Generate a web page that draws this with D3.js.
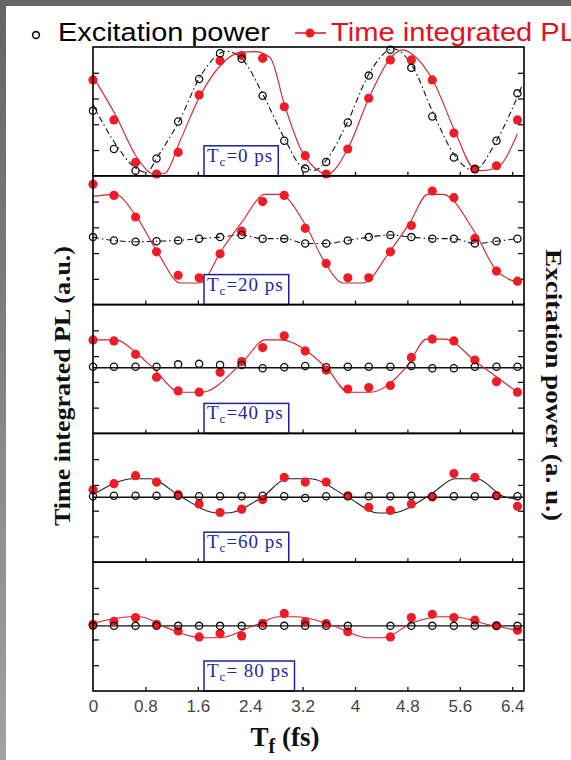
<!DOCTYPE html>
<html>
<head>
<meta charset="utf-8">
<script src="https://cdn.jsdelivr.net/npm/d3@7"></script>
<style>
  html, body { margin: 0; padding: 0; background: #fff; }
  svg { display: block; }
</style>
</head>
<body>
<div id="chart"></div>
<script>
// delay Tf (fs) of every measured point, same in all panels
const tf = [0, 0.32, 0.65, 0.97, 1.30, 1.62, 1.94, 2.27, 2.59, 2.92, 3.24,
  3.56, 3.89, 4.21, 4.54, 4.86, 5.18, 5.51, 5.83, 6.16, 6.48];
const xTicks = [0, 0.8, 1.6, 2.4, 3.2, 4, 4.8, 5.6, 6.4];
const tcLabels = ["0", "20", "40", "60", " 80"];

// excitation power (open circles), one list per Tc
const exc0 = [2.53, 1.04, 0.2, 0.67, 2.11, 3.76, 4.76, 4.54, 3.11, 1.36, 0.28,
  0.54, 2.07, 3.89, 4.89, 4.19, 2.3, 0.71, 0.26, 1.36, 3.2];
const exc20 = [2.62, 2.49, 2.44, 2.46, 2.49, 2.56, 2.62, 2.7, 2.56, 2.56, 2.37,
  2.37, 2.49, 2.62, 2.7, 2.62, 2.56, 2.56, 2.37, 2.46, 2.56];
const exc40 = [2.59, 2.59, 2.59, 2.59, 2.68, 2.7, 2.66, 2.66, 2.53, 2.57, 2.62,
  2.57, 2.59, 2.59, 2.59, 2.62, 2.53, 2.53, 2.59, 2.59, 2.59];
const exc60 = [2.56, 2.58, 2.58, 2.58, 2.58, 2.56, 2.56, 2.56, 2.58, 2.56, 2.49,
  2.56, 2.56, 2.56, 2.56, 2.58, 2.56, 2.56, 2.56, 2.58, 2.56];
const exc80 = [2.53, 2.53, 2.53, 2.53, 2.53, 2.53, 2.53, 2.53, 2.53, 2.53, 2.53,
  2.53, 2.53, null, 2.53, 2.53, 2.53, 2.53, 2.53, 2.53, 2.53];

// time integrated PL (red dots)
const pl0 = [3.72, 2.17, 0.52, 0.07, 0.91, 3.14, 4.47, 4.67, 4.56, 2.68, 0.78,
  0.07, 1.04, 3.01, 4.5, 4.5, 3.72, 1.66, 0.26, 0.39, 2.17];
const pl20 = [4.67, 4.24, 3.4, 2.05, 1.14, 1.04, 1.97, 2.85, 4.0, 4.24, 2.96,
  1.6, 1.04, 1.04, 2.05, 3.07, 4.41, 4.15, 2.57, 1.3, 0.91];
const pl40 = [3.63, 3.59, 3.07, 2.18, 1.65, 1.6, 2.37, 2.79, 3.33, 3.79, 3.2,
  2.46, 1.72, 1.78, 1.86, 2.95, 3.66, 3.59, 2.85, 2.01, 1.6];
const pl60 = [2.81, 3.05, 3.36, 3.11, 2.62, 2.26, 1.93, 2.06, 2.43, 3.29, 3.11,
  3.11, 2.58, 2.13, 2.01, 2.26, 2.53, 3.44, 3.29, 2.58, 2.17];
const pl80 = [2.59, 2.7, 2.85, 2.59, 2.33, 2.1, 2.23, 2.14, 2.63, 3.01, 2.68,
  2.62, 2.3, null, 2.1, 2.85, 2.98, 2.85, 2.75, 2.53, 2.36];

// fitted curves as [Tf, value]
const excFit0 = [[0, 2.76], [0.34, 1.25], [0.64, 0.32], [0.82, 0.13], [0.98, 0.72],
  [1.33, 2.2], [1.63, 3.82], [2.04, 4.84], [2.29, 4.5], [2.59, 3.18], [2.93, 1.42],
  [3.19, 0.35], [3.39, 0.22], [3.56, 0.6], [3.89, 2.11], [4.21, 3.94], [4.59, 4.93],
  [4.87, 4.28], [5.2, 2.4], [5.52, 0.8], [5.81, 0.2], [6.16, 1.36], [6.55, 3.5]];
const excFit40 = [[0, 2.55], [6.58, 2.55]];
const excFit60 = [[0, 2.52], [6.58, 2.52]];
const excFit80 = [[0, 2.53], [6.58, 2.53]];

const plFit0 = [[0, 3.85], [0.35, 2.33], [0.67, 0.71], [0.95, 0.05], [1.1, 0.1],
  [1.33, 1.36], [1.65, 3.18], [1.97, 4.35], [2.24, 4.79], [2.47, 4.82], [2.7, 4.6],
  [2.93, 2.7], [3.16, 1.1], [3.47, 0.15], [3.57, 0.05], [3.89, 1.05], [4.21, 3.0],
  [4.55, 4.6], [4.73, 4.89], [4.87, 4.73], [5.19, 3.7], [5.53, 1.7], [5.82, 0.26],
  [5.93, 0.2], [6.16, 0.3], [6.48, 1.63]];
const plFit20 = [[0, 4.2], [0.34, 4.28], [0.64, 3.5], [1.02, 1.88], [1.33, 0.84],
  [1.63, 0.84], [1.97, 2.14], [2.27, 3.19], [2.63, 4.28], [2.85, 4.28], [3.24, 3.11],
  [3.54, 1.63], [3.82, 0.84], [4.12, 0.84], [4.53, 2.06], [4.84, 3.19], [5.11, 4.28],
  [5.34, 4.28], [5.83, 2.8], [6.15, 1.36], [6.52, 0.84]];
const plFit40 = [[0, 3.63], [0.35, 3.63], [0.67, 3.1], [0.92, 2.53], [1.33, 1.6],
  [1.66, 1.6], [2.28, 2.75], [2.63, 3.63], [2.85, 3.63], [3.57, 2.53], [3.9, 1.6],
  [4.23, 1.6], [4.81, 2.66], [5.09, 3.66], [5.37, 3.66], [5.86, 2.75], [6.48, 1.6]];
const plFit60 = [[0, 2.62], [0.62, 3.24], [0.87, 3.24], [1.33, 2.56], [1.89, 1.91],
  [2.04, 1.91], [2.6, 2.56], [2.96, 3.24], [3.31, 3.24], [3.87, 2.56], [4.36, 1.91],
  [4.56, 1.91], [5.15, 2.62], [5.53, 3.24], [5.86, 3.24], [6.26, 2.56], [6.52, 2.43]];
const plFit80 = [[0, 2.62], [0.56, 2.88], [0.72, 2.88], [1.12, 2.46], [1.63, 2.07],
  [1.94, 2.07], [2.45, 2.53], [2.85, 2.88], [3.11, 2.88], [3.67, 2.53], [4.18, 2.07],
  [4.43, 2.07], [4.89, 2.66], [5.3, 2.88], [5.5, 2.88], [6.06, 2.56], [6.52, 2.33]];

const panels = [
  { tc: tcLabels[0], exc: exc0, pl: pl0, excFit: excFit0, plFit: plFit0 },
  { tc: tcLabels[1], exc: exc20, pl: pl20, excFit: null, plFit: plFit20 },
  { tc: tcLabels[2], exc: exc40, pl: pl40, excFit: excFit40, plFit: plFit40 },
  { tc: tcLabels[3], exc: exc60, pl: pl60, excFit: excFit60, plFit: plFit60 },
  { tc: tcLabels[4], exc: exc80, pl: pl80, excFit: excFit80, plFit: plFit80 }
];

const W = 571, H = 760;
const plotLeft = 93, plotRight = 524, plotTop = 47, plotBottom = 691;
const RED = "#ee1c24";
const BLUE = "#2626a8";

const svg = d3.select("#chart").append("svg")
  .attr("width", W).attr("height", H)
  .style("font-family", "'Liberation Sans', Arial, sans-serif");

svg.append("rect").attr("width", W).attr("height", H).attr("fill", "#fff");

// grey slide edge
const grad = svg.append("defs").append("linearGradient")
  .attr("id", "edge").attr("x1", 0).attr("x2", 0).attr("y1", 0).attr("y2", 1);
grad.append("stop").attr("offset", "0%").attr("stop-color", "#646464");
grad.append("stop").attr("offset", "100%").attr("stop-color", "#a2a2a2");
svg.append("rect").attr("width", 6).attr("height", H).attr("fill", "url(#edge)");
svg.append("rect").attr("width", W).attr("height", 6).attr("fill", "#666");

const x = d3.scaleLinear().domain([0, 6.58]).range([plotLeft, plotRight]);
const ph = (plotBottom - plotTop) / panels.length;

const noDomain = s => s.select(".domain").remove();

panels.forEach((p, i) => {
  const top = plotTop + i * ph;
  const bottom = top + ph;
  const y = d3.scaleLinear().domain([0, 5]).range([bottom, top]);
  const g = svg.append("g").attr("class", "panel");

  // inner ticks
  g.append("g")
    .attr("transform", `translate(0,${bottom})`)
    .call(d3.axisBottom(x).tickValues(xTicks.slice(1)).tickSize(-4).tickFormat(""))
    .call(noDomain);
  g.append("g")
    .attr("transform", `translate(${plotLeft},0)`)
    .call(d3.axisLeft(y).tickValues([1, 2, 3, 4]).tickSize(-6).tickFormat(""))
    .call(noDomain);
  g.append("g")
    .attr("transform", `translate(${plotRight},0)`)
    .call(d3.axisRight(y).tickValues([1, 2, 3, 4]).tickSize(-6).tickFormat(""))
    .call(noDomain);
  g.selectAll(".tick line").attr("stroke", "#000").attr("stroke-width", 1.2);

  const line = d3.line()
    .defined(d => d[1] != null)
    .x(d => x(d[0]))
    .y(d => y(d[1]))
    .curve(d3.curveMonotoneX);

  // excitation fit: dash-dot where it oscillates, solid where flat
  const excPts = p.excFit || tf.map((t, k) => [t, p.exc[k]]);
  g.append("path")
    .attr("d", line(excPts))
    .attr("fill", "none")
    .attr("stroke", "#111")
    .attr("stroke-width", i < 2 ? 1.1 : 1.4)
    .attr("stroke-dasharray", i < 2 ? "6,3,1.5,3" : null);

  // PL fit
  g.append("path")
    .attr("d", line(p.plFit))
    .attr("fill", "none")
    .attr("stroke", i === 3 ? "#222" : "#d3232f")
    .attr("stroke-width", 1.1);

  const plPts = tf.map((t, k) => [t, p.pl[k]]).filter(d => d[1] != null);
  g.selectAll(".pl").data(plPts).join("circle")
    .attr("class", "pl")
    .attr("cx", d => x(d[0])).attr("cy", d => y(d[1]))
    .attr("r", 4.6)
    .attr("fill", RED);

  const excDots = tf.map((t, k) => [t, p.exc[k]]).filter(d => d[1] != null);
  g.selectAll(".exc").data(excDots).join("circle")
    .attr("class", "exc")
    .attr("cx", d => x(d[0])).attr("cy", d => y(d[1]))
    .attr("r", 3.6)
    .attr("fill", "none")
    .attr("stroke", "#111")
    .attr("stroke-width", 1.3);

  // Tc label box
  const lab = g.append("g");
  const txt = lab.append("text")
    .attr("x", 207).attr("y", bottom - 14)
    .attr("fill", BLUE)
    .style("font-family", "'Liberation Serif', 'Times New Roman', serif")
    .style("font-size", "19px")
    .style("letter-spacing", "1px");
  txt.append("tspan").text("T");
  txt.append("tspan").attr("dy", 4).style("font-size", "13px").text("c");
  txt.append("tspan").attr("dy", -4).text("=" + p.tc + " ps");
  const bb = txt.node().getBBox();
  lab.insert("rect", "text")
    .attr("x", 204).attr("y", bottom - 30)
    .attr("width", bb.width + 8).attr("height", 30)
    .attr("fill", "#fff")
    .attr("stroke", "#2020a0")
    .attr("stroke-width", 1.5);

  // frame
  g.append("rect")
    .attr("x", plotLeft).attr("y", top)
    .attr("width", plotRight - plotLeft).attr("height", ph)
    .attr("fill", "none").attr("stroke", "#000").attr("stroke-width", 1.6);
});

// bottom tick labels
svg.append("g")
  .attr("transform", `translate(0,${plotBottom})`)
  .call(d3.axisBottom(x).tickValues(xTicks).tickSize(0).tickPadding(9)
    .tickFormat(d => String(+d.toFixed(1))))
  .call(noDomain)
  .selectAll("text")
  .attr("fill", "#444")
  .style("font-family", "'Liberation Sans', Arial, sans-serif")
  .style("font-size", "17px");

// x title
const xt = svg.append("text")
  .attr("x", 285).attr("y", 746)
  .attr("text-anchor", "middle")
  .attr("fill", "#111")
  .style("font-family", "'Liberation Serif', 'Times New Roman', serif")
  .style("font-weight", "bold")
  .style("font-size", "27px");
xt.append("tspan").text("T");
xt.append("tspan").attr("dy", 7).style("font-size", "20px").text("f");
xt.append("tspan").attr("dy", -7).text(" (fs)");

// y titles
svg.append("text")
  .attr("transform", "translate(70,386) rotate(-90)")
  .attr("text-anchor", "middle")
  .attr("fill", "#111")
  .attr("textLength", 280).attr("lengthAdjust", "spacingAndGlyphs")
  .style("font-family", "'Liberation Serif', 'Times New Roman', serif")
  .style("font-weight", "bold")
  .style("font-size", "24px")
  .text("Time integrated PL (a.u.)");

svg.append("text")
  .attr("transform", "translate(546,385) rotate(90)")
  .attr("text-anchor", "middle")
  .attr("fill", "#111")
  .attr("textLength", 272).attr("lengthAdjust", "spacingAndGlyphs")
  .style("font-family", "'Liberation Serif', 'Times New Roman', serif")
  .style("font-weight", "bold")
  .style("font-size", "24px")
  .text("Excitation power (a. u.)");

// legend
svg.append("circle").attr("cx", 36).attr("cy", 35).attr("r", 3.4)
  .attr("fill", "none").attr("stroke", "#111").attr("stroke-width", 1.6);
svg.append("text").attr("x", 58).attr("y", 41)
  .attr("fill", "#000")
  .attr("textLength", 212).attr("lengthAdjust", "spacingAndGlyphs")
  .style("font-size", "26px")
  .text("Excitation power");
svg.append("line").attr("x1", 295).attr("x2", 326).attr("y1", 33).attr("y2", 33)
  .attr("stroke", RED).attr("stroke-width", 1.6);
svg.append("circle").attr("cx", 310).attr("cy", 33).attr("r", 4.5).attr("fill", RED);
svg.append("text").attr("x", 331).attr("y", 41)
  .attr("fill", "#e3101e")
  .attr("textLength", 245).attr("lengthAdjust", "spacingAndGlyphs")
  .style("font-size", "26px")
  .text("Time integrated PL");
</script>
</body>
</html>
